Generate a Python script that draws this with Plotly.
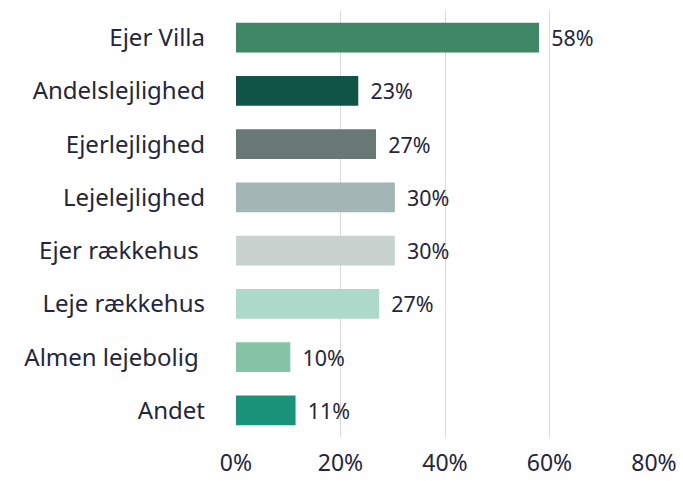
import plotly.graph_objects as go

categories = ["Ejer Villa", "Andelslejlighed", "Ejerlejlighed", "Lejelejlighed",
              "Ejer rækkehus\u00a0", "Leje rækkehus", "Almen lejebolig\u00a0", "Andet"]
values = [58.0, 23.4, 26.8, 30.4, 30.4, 27.4, 10.4, 11.4]
bar_colors = ["#3f8766", "#0f5446", "#687874", "#a3b5b5",
              "#c8d3d0", "#acd9c9", "#85c4a6", "#1a937a"]
tick_vals = [0, 20, 40, 60, 80]
tick_text = ["0%", "20%", "40%", "60%", "80%"]

font_family = "Noto Sans"
text_color = "#24263a"
fsize = 24

fig = go.Figure(go.Bar(
    x=values,
    y=categories,
    orientation="h",
    marker=dict(color=bar_colors, line=dict(width=0)),
    texttemplate="\u00a0\u2009%{x:.0f}%",
    textposition="outside",
    textfont=dict(family=font_family, size=23, color=text_color),
    cliponaxis=False,
))

fig.update_layout(
    width=683, height=481,
    margin=dict(l=236, r=29, t=11, b=44, autoexpand=False),
    paper_bgcolor="white", plot_bgcolor="white",
    bargap=0.44,
    showlegend=False,
    font=dict(family=font_family, size=fsize, color=text_color),
    xaxis=dict(range=[0, 80], tickvals=tick_vals, ticktext=tick_text,
               showgrid=True, gridcolor="#d9d9d9", gridwidth=1,
               zeroline=False, showline=False, ticks="", automargin=False,
               ticklabelstandoff=10, tickfont=dict(size=23)),
    yaxis=dict(autorange="reversed", showgrid=False, zeroline=False,
               showline=False, ticks="", automargin=False,
               ticklabelstandoff=30, tickfont=dict(size=fsize)),
)

fig.write_html("out.html", config={"displayModeBar": False},
               post_script="document.body.style.margin='0';document.body.style.padding='0';")
